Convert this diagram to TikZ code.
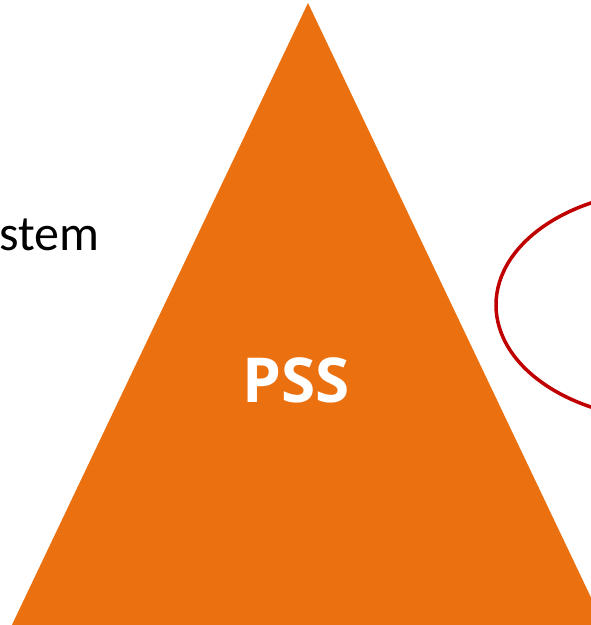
\documentclass[tikz,border=0pt]{standalone}
\usepackage{fontspec}
\setmainfont{Carlito}
\newfontfamily\pssfont{Open Sans}
\definecolor{pssorange}{RGB}{235,112,16}
\definecolor{ellred}{RGB}{192,0,0}
\begin{document}
\begin{tikzpicture}[x=1pt,y=-1pt,
  lbl/.style={inner sep=0pt, outer sep=0pt, anchor=base west, font=\fontsize{50}{56}\selectfont, text=black},
  psslbl/.style={inner sep=0pt, anchor=base, font=\pssfont\fontsize{62}{68}\selectfont\bfseries, text=white}]
\useasboundingbox (0,0) rectangle (591,625);
\clip (0,0) rectangle (591,625);
\fill[pssorange] (308,3) -- (616,650) -- (0,650) -- cycle;
\draw[ellred, line width=3.5pt] (670,305) ellipse [x radius=174, y radius=114.5];
\node[lbl] (sys) at (-1,250) {stem};
\node[psslbl] (pss) at (296,402) {PSS};
\end{tikzpicture}
\end{document}
